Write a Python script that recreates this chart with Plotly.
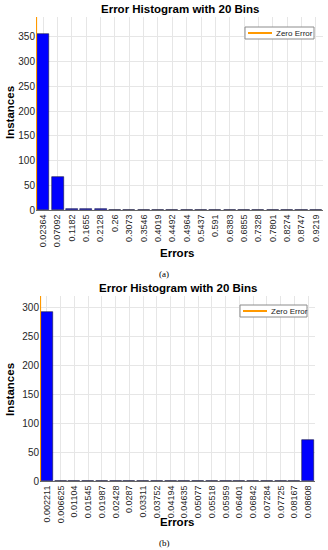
import plotly.graph_objects as go

# ---- data ----
labels_a = ["0.02364", "0.07092", "0.1182", "0.1655", "0.2128", "0.26", "0.3073",
            "0.3546", "0.4019", "0.4492", "0.4964", "0.5437", "0.591", "0.6383",
            "0.6855", "0.7328", "0.7801", "0.8274", "0.8747", "0.9219"]
counts_a = [355, 66, 3, 2, 2, 0, 0, 0, 0, 0, 0, 0, 0, 0, 0, 0, 0, 0, 0, 1]

labels_b = ["0.002211", "0.006625", "0.01104", "0.01545", "0.01987", "0.02428",
            "0.0287", "0.03311", "0.03752", "0.04194", "0.04635", "0.05077",
            "0.05518", "0.05959", "0.06401", "0.06842", "0.07284", "0.07725",
            "0.08167", "0.08608"]
counts_b = [292, 0, 0, 0, 0, 0, 0, 0, 0, 0, 0, 0, 0, 0, 0, 0, 0, 0, 0, 71]

ymax_a = 390
ymax_b = 320
yticks_a = [0, 50, 100, 150, 200, 250, 300, 350]
yticks_b = [0, 50, 100, 150, 200, 250, 300]
legend_name = "Zero Error"

FONT = "Arial, Liberation Sans, sans-serif"
W, H = 328, 550
ORANGE = "#FF9900"

fig = go.Figure()

idx_a = list(range(len(labels_a)))
idx_b = list(range(len(labels_b)))

fig.add_trace(go.Bar(x=idx_a, y=counts_a, width=0.84,
                     marker=dict(color="#0000FF", line=dict(color="#1a1a40", width=0.6)),
                     showlegend=False, xaxis="x", yaxis="y"))
fig.add_trace(go.Scatter(x=[-0.5, -0.5], y=[0, ymax_a], mode="lines", line=dict(color=ORANGE, width=2.2),
                         name=legend_name, showlegend=False, xaxis="x", yaxis="y"))

fig.add_trace(go.Bar(x=idx_b, y=counts_b, width=0.86,
                     marker=dict(color="#0000FF", line=dict(color="#1a1a40", width=0.6)),
                     showlegend=False, xaxis="x2", yaxis="y2"))
fig.add_trace(go.Scatter(x=[-0.5, -0.5], y=[0, ymax_b], mode="lines", line=dict(color=ORANGE, width=2.2),
                         name=legend_name, showlegend=False, xaxis="x2", yaxis="y2"))

xa_common = dict(tickangle=-90, tickfont=dict(family=FONT, size=9, color="#262626"),
                 showgrid=True, gridcolor="#e6e6e6", gridwidth=1, zeroline=False, automargin=False,
                 showline=True, linecolor="#666666", linewidth=1, ticks="", range=[-0.5, 19.5])
ya_common = dict(tickfont=dict(family=FONT, size=10, color="#262626"), showgrid=True, automargin=False,
                 gridcolor="#e6e6e6", gridwidth=1, zeroline=False, showline=False, ticks="")

fig.update_layout(
    width=W, height=H,
    margin=dict(l=0, r=0, t=0, b=0, autoexpand=False),
    paper_bgcolor="white", plot_bgcolor="white",
    xaxis=dict(domain=[36 / W, 323 / W], anchor="y", tickmode="array", tickvals=idx_a, ticktext=labels_a, **xa_common),
    yaxis=dict(domain=[1 - 210 / H, 1 - 17 / H], anchor="x", range=[0, ymax_a], tickvals=yticks_a, **ya_common),
    xaxis2=dict(domain=[40 / W, 315 / W], anchor="y2", tickmode="array", tickvals=idx_b, ticktext=labels_b, **xa_common),
    yaxis2=dict(domain=[1 - 481 / H, 1 - 296 / H], anchor="x2", range=[0, ymax_b], tickvals=yticks_b, **ya_common),
    bargap=0,
    showlegend=False,
)

def ann(text, x, y, size, bold=False, angle=0, family=FONT, color="#000", xanchor="center"):
    fig.add_annotation(text=f"<b>{text}</b>" if bold else text, x=x / W, y=1 - y / H,
                       xref="paper", yref="paper", showarrow=False, textangle=angle,
                       font=dict(family=family, size=size, color=color),
                       xanchor=xanchor, yanchor="middle")

# manual legend boxes (legend decoration)
def legend_box(x0, x1, y0, y1):
    fig.add_shape(type="rect", xref="paper", yref="paper", x0=x0 / W, x1=x1 / W, y0=1 - y1 / H, y1=1 - y0 / H,
                  line=dict(color="#8c8c8c", width=1), fillcolor="white", layer="above")
    ym = (y0 + y1) / 2
    fig.add_shape(type="line", xref="paper", yref="paper", x0=(x0 + 3) / W, x1=(x0 + 27) / W,
                  y0=1 - ym / H, y1=1 - ym / H, line=dict(color=ORANGE, width=2), layer="above")
    ann(legend_name, x0 + 29, ym, 8, xanchor="left", color="#222")

legend_box(245, 314, 27, 39)
legend_box(240, 307, 305, 317)

ann("Error Histogram with 20 Bins", 180, 9, 11.5, bold=True)
ann("Instances", 10, 113, 11.5, bold=True, angle=-90)
ann("Errors", 177, 253, 11.5, bold=True)
ann("(a)", 164, 274, 9, family="Liberation Serif, Times New Roman, serif")

ann("Error Histogram with 20 Bins", 178, 288, 11.5, bold=True)
ann("Instances", 10, 390, 11.5, bold=True, angle=-90)
ann("Errors", 177, 522, 11.5, bold=True)
ann("(b)", 164, 543, 9, family="Liberation Serif, Times New Roman, serif")

fig.write_html("out.html", config={"displayModeBar": False},
               post_script="document.body.style.margin='0';document.body.style.overflow='hidden';")
